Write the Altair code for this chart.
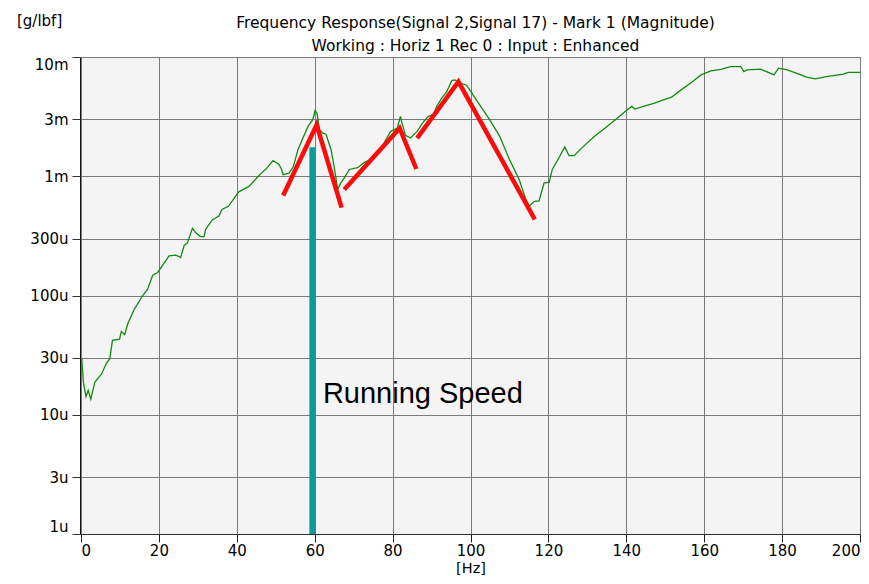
import altair as alt
import pandas as pd

# ---- green measured magnitude curve ----
hz = [0.2, 0.6, 1.27, 1.86, 2.5, 3.56, 5.3, 6.5, 7.4, 8.06, 9.9, 10.35, 11.2, 12.0,
      13.7, 15.85, 17.1, 18.4, 19.7, 22.6, 24.3, 25.6, 26.5, 27.3, 28.6, 29.4, 30.7,
      31.6, 32.0, 33.7, 35.4, 36.2, 37.9, 40.5, 41.7, 43.2, 45.5, 47.7, 49.3, 50.8,
      51.5, 51.9, 53.4, 54.5, 55.7, 57.0, 58.3, 59.5, 60.1, 60.6, 61.2, 62.1, 62.9,
      64.2, 65.0, 65.9, 66.7, 67.6, 68.9, 71.0, 72.7, 75.2, 77.8, 79.5, 81.2, 82.0,
      82.4, 83.3, 84.6, 86.3, 88.0, 89.2, 90.5, 91.3, 92.6, 93.9, 95.2, 96.0, 97.3,
      99.0, 99.8, 101.5, 104.9, 107.5, 110.0, 112.5, 114.2, 115.1, 116.4, 117.6,
      118.9, 120.2, 121.0, 122.7, 124.2, 125.3, 126.6, 129.0, 132.0, 134.6, 137.2,
      139.7, 141.4, 142.2, 144.8, 147.3, 149.0, 151.6, 154.1, 156.7, 159.2, 161.7,
      164.3, 166.8, 169.4, 170.2, 171.0, 174.5, 176.6, 177.9, 179.1, 181.3, 183.8,
      186.3, 188.5, 191.4, 195.7, 197.0, 200.0]
mag = [29.5e-6, 18.8e-6, 14.2e-6, 16e-6, 13.5e-6, 18.8e-6, 22e-6, 27e-6, 29.5e-6,
       42e-6, 43e-6, 50e-6, 47e-6, 58e-6, 77e-6, 100e-6, 113e-6, 148e-6, 156e-6,
       215e-6, 218e-6, 209e-6, 264e-6, 275e-6, 366e-6, 337e-6, 312e-6, 312e-6,
       359e-6, 430e-6, 464e-6, 527e-6, 562e-6, 740e-6, 776e-6, 826e-6, 1.0e-3,
       1.17e-3, 1.35e-3, 1.26e-3, 1.14e-3, 1.03e-3, 1.06e-3, 1.2e-3, 1.67e-3,
       2.1e-3, 2.62e-3, 2.98e-3, 3.56e-3, 3.38e-3, 2.46e-3, 2.3e-3, 2.25e-3,
       1.67e-3, 1.2e-3, 776e-6, 880e-6, 970e-6, 1.14e-3, 1.18e-3, 1.3e-3, 1.43e-3,
       1.9e-3, 2.38e-3, 2.53e-3, 3.18e-3, 2.8e-3, 2.2e-3, 2.09e-3, 2.38e-3, 2.88e-3,
       3.18e-3, 3.28e-3, 3.85e-3, 4.52e-3, 5.13e-3, 6.34e-3, 6.43e-3, 6.03e-3,
       5.8e-3, 5.3e-3, 4.37e-3, 2.98e-3, 2.16e-3, 1.38e-3, 940e-6, 640e-6, 562e-6,
       616e-6, 620e-6, 880e-6, 890e-6, 1.14e-3, 1.43e-3, 1.76e-3, 1.49e-3, 1.49e-3,
       1.78e-3, 2.19e-3, 2.54e-3, 2.98e-3, 3.49e-3, 3.85e-3, 3.66e-3, 3.9e-3,
       4.1e-3, 4.31e-3, 4.6e-3, 5.3e-3, 6.1e-3, 7.08e-3, 7.64e-3, 7.89e-3, 8.3e-3,
       8.3e-3, 7.55e-3, 7.8e-3, 7.9e-3, 7.4e-3, 7.08e-3, 8.05e-3, 7.8e-3, 7.3e-3,
       6.77e-3, 6.55e-3, 6.85e-3, 7.17e-3, 7.44e-3, 7.44e-3]

# ---- red hand-drawn peak markers (three polylines) ----
red_seg = ["A", "A", "A", "B", "B", "B", "C", "C", "C"]
red_hz = [51.9, 60.5, 66.9, 67.6, 81.8, 86.1, 86.3, 96.9, 116.5]
red_mag = [690e-6, 2.7e-3, 545e-6, 776e-6, 2.53e-3, 1.15e-3, 2.09e-3, 6.22e-3, 435e-6]

# ---- running speed marker ----
run_hz = [59.4]
run_lo = [1e-6]
run_hi = [1.75e-3]
note_hz = [62.1]
note_mag = [12.6e-6]
note_text = ["Running Speed"]
unit_text = ["[g/lbf]"]

x_ticks = [0, 20, 40, 60, 80, 100, 120, 140, 160, 180, 200]
y_ticks = [1e-6, 3e-6, 1e-5, 3e-5, 1e-4, 3e-4, 1e-3, 3e-3, 1e-2]

FONT = "DejaVu Sans"

xscale = alt.Scale(domain=[-0.26, 200.26], nice=False, zero=False)
yscale = alt.Scale(type="log", domain=[1e-6, 1e-2], nice=False)

xaxis = alt.Axis(values=x_ticks, title="[Hz]", format="d",
                 grid=True, gridColor="#7a7a7a", gridWidth=1,
                 domainColor="#333333", tickColor="#222222", tickSize=8,
                 labelFont=FONT, labelFontSize=15, labelColor="black",
                 labelPadding=1, labelFlush=3,
                 titleFont=FONT, titleFontSize=14.5,
                 titleFontWeight="normal", titleColor="black",
                 titleBaseline="alphabetic", titleY=38)
yaxis = alt.Axis(values=y_ticks,
                 labelExpr="datum.value >= 0.00099 ? round(datum.value*1000) + 'm' : round(datum.value*1000000) + 'u'",
                 grid=True, gridColor="#7a7a7a", gridWidth=1,
                 domainColor="#111111", tickColor="#333333", tickSize=8,
                 labelFont=FONT, labelFontSize=15, labelColor="black",
                 labelPadding=4, labelFlush=True, labelFlushOffset=0,
                 title=None)

green_df = pd.DataFrame({"hz": hz, "mag": mag})
red_df = pd.DataFrame({"seg": red_seg, "hz": red_hz, "mag": red_mag})
run_df = pd.DataFrame({"hz": run_hz, "lo": run_lo, "hi": run_hi})
note_df = pd.DataFrame({"hz": note_hz, "mag": note_mag, "text": note_text})
unit_df = pd.DataFrame({"text": unit_text})

green = alt.Chart(green_df).mark_line(color="#118a11", strokeWidth=1.3).encode(
    x=alt.X("hz:Q", scale=xscale, axis=xaxis),
    y=alt.Y("mag:Q", scale=yscale, axis=yaxis),
)

red = alt.Chart(red_df).mark_line(color="#ff0a0a", strokeWidth=4.5,
                                  strokeJoin="miter", strokeCap="butt").encode(
    x=alt.X("hz:Q", scale=xscale, axis=xaxis),
    y=alt.Y("mag:Q", scale=yscale, axis=yaxis),
    detail="seg:N",
)

run = alt.Chart(run_df).mark_rule(color="#0a9a9a", strokeWidth=6).encode(
    x=alt.X("hz:Q", scale=xscale, axis=xaxis),
    y=alt.Y("lo:Q", scale=yscale, axis=yaxis),
    y2="hi:Q",
)

note = alt.Chart(note_df).mark_text(align="left", baseline="alphabetic",
                                    font="Liberation Sans", fontSize=29,
                                    color="black").encode(
    x=alt.X("hz:Q", scale=xscale, axis=xaxis),
    y=alt.Y("mag:Q", scale=yscale, axis=yaxis),
    text="text:N",
)

unit = alt.Chart(unit_df).mark_text(align="left", baseline="middle",
                                    font=FONT, fontSize=15, color="black").encode(
    x=alt.value(-63), y=alt.value(-36), text="text:N",
)

chart = alt.layer(green, red, run, note, unit).properties(
    width=781, height=477,
    autosize=alt.AutoSizeParams(type="none"),
    padding={"left": 72, "top": 49, "right": 0, "bottom": 42},
    background="white",
    title=alt.TitleParams(
        text="Frequency Response(Signal 2,Signal 17) - Mark 1 (Magnitude)",
        subtitle="Working : Horiz 1 Rec 0 : Input : Enhanced",
        font=FONT, fontSize=15.5, fontWeight="normal", color="black",
        subtitleFont=FONT, subtitleFontSize=15.5, subtitleColor="black",
        subtitlePadding=7, anchor="middle", offset=4, dx=5, dy=44,
    ),
).configure_view(fill="#f4f4f4", stroke=None)

chart.save("out.html", embed_options={"renderer": "svg", "actions": False})
